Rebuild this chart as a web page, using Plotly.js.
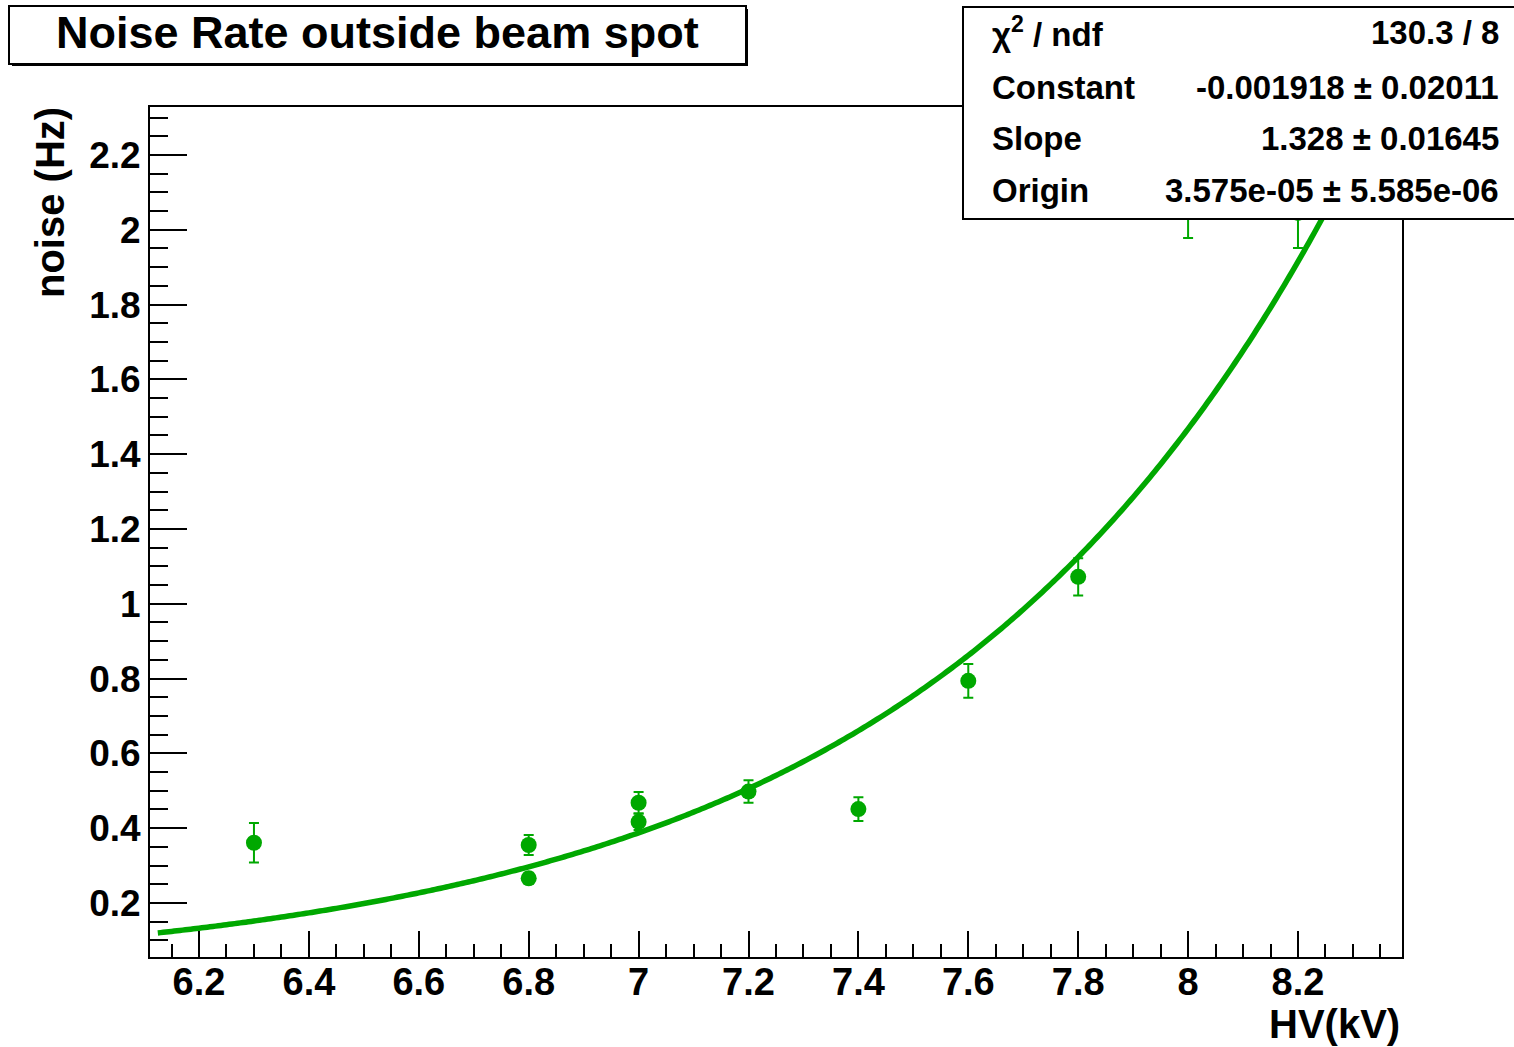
<!DOCTYPE html>
<html>
<head>
<meta charset="utf-8">
<script src="https://cdn.plot.ly/plotly-3.0.1.min.js"></script>
<style>html,body{margin:0;padding:0;background:#fff;}#chart{width:1514px;height:1047px;}</style>
</head>
<body>
<div id="chart"></div>
<script>
// ---- data ----
const hv      = [6.3,   6.8,   6.8,   7.0,   7.0,   7.2,   7.4,   7.6,   7.8,   8.0,   8.2];
const noise   = [0.361, 0.355, 0.266, 0.468, 0.417, 0.498, 0.451, 0.794, 1.072, 2.054, 2.045];
const noiseErr= [0.053, 0.027, 0.015, 0.029, 0.022, 0.030, 0.032, 0.045, 0.050, 0.076, 0.094];

// fit parameters shown in the stats box: f(x) = Constant + Origin*exp(Slope*x)
const statNames  = ["χ<sup>2</sup> / ndf", "Constant", "Slope", "Origin"];
const statValues = ["130.3 / 8", "-0.001918 ± 0.02011", "1.328 ± 0.01645", "3.575e-05 ± 5.585e-06"];
const fitConstant = -0.001918, fitSlope = 1.328, fitOrigin = 3.575e-05;
const fitRange = [6.125, 8.39];

const titleText = "Noise Rate outside beam spot";
const xTitle = "HV(kV)";
const yTitle = "noise (Hz)";

// ---- fit curve from the displayed parameters ----
const fitX = [], fitY = [];
for (let x = fitRange[0]; x <= fitRange[1] + 1e-9; x += 0.005) {
  fitX.push(x);
  fitY.push(fitConstant + fitOrigin * Math.exp(fitSlope * x));
}

const green = "rgb(0,168,0)";
const W = 1514, H = 1047;
const M = {l:150, r:112, t:107, b:90};
const pw = W - M.l - M.r, ph = H - M.t - M.b;
const px = v => (v - M.l) / pw;
const py = v => (H - M.b - v) / ph;
const FONT = "Liberation Sans, Arial, Helvetica, sans-serif";

const traces = [
  {x: fitX, y: fitY, mode: "lines", line: {color: green, width: 5.5, simplify: false}, hoverinfo: "skip", showlegend: false},
  {x: hv, y: noise, mode: "markers", marker: {color: green, size: 16},
   error_y: {type: "data", array: noiseErr, visible: true, color: green, thickness: 2, width: 5},
   showlegend: false}
];

const shapes = [
  // title box shadow + box
  {type:"rect", xref:"paper", yref:"paper", x0:px(12), x1:px(748), y0:py(66), y1:py(9), fillcolor:"#000", line:{width:0}, layer:"above"},
  {type:"rect", xref:"paper", yref:"paper", x0:px(9), x1:px(746), y0:py(64), y1:py(6), fillcolor:"#fff", line:{color:"#000", width:2}, layer:"above"},
  // stats box
  {type:"rect", xref:"paper", yref:"paper", x0:px(963), x1:px(1530), y0:py(219), y1:py(7), fillcolor:"#fff", line:{color:"#000", width:2}, layer:"above"}
];

const annotations = [
  {xref:"paper", yref:"paper", x:px(377), y:py(33), text:titleText, showarrow:false, xanchor:"center", yanchor:"middle",
   font:{family:FONT, size:45, color:"#000", weight:"bold"}},
  {xref:"paper", yref:"paper", x:px(1402), y:py(1024), text:xTitle, showarrow:false, xanchor:"right", yanchor:"middle",
   font:{family:FONT, size:40, color:"#000", weight:"bold"}},
  {xref:"paper", yref:"paper", x:px(50), y:py(203), text:yTitle, showarrow:false, textangle:-90, xanchor:"center", yanchor:"middle",
   font:{family:FONT, size:40, color:"#000", weight:"bold"}}
];
const rowY = [32, 87, 139, 190];
for (let i = 0; i < statNames.length; i++) {
  annotations.push({xref:"paper", yref:"paper", x:px(990), y:py(rowY[i]), text:statNames[i], showarrow:false,
    xanchor:"left", yanchor:"middle", font:{family:FONT, size:33, color:"#000", weight:"bold"}});
  annotations.push({xref:"paper", yref:"paper", x:px(1501), y:py(rowY[i]), text:statValues[i], showarrow:false,
    xanchor:"right", yanchor:"middle", font:{family:FONT, size:33, color:"#000", weight:"bold"}});
}

const layout = {
  width: W, height: H,
  margin: M,
  paper_bgcolor: "#fff", plot_bgcolor: "#fff",
  showlegend: false,
  xaxis: {
    range: [6.1108, 8.3893], showgrid: false, zeroline: false,
    showline: true, linecolor: "#000", linewidth: 2, mirror: true,
    ticks: "inside", ticklen: 26, tickwidth: 2, tickcolor: "#000",
    dtick: 0.2, tick0: 6.2,
    minor: {ticks: "inside", dtick: 0.05, ticklen: 13, tickwidth: 2, tickcolor: "#000", showgrid: false},
    tickfont: {family: FONT, size: 38, color: "#000", weight: "bold"},
    ticklabelstandoff: -10
  },
  yaxis: {
    range: [0.0556, 2.3283], showgrid: false, zeroline: false,
    showline: true, linecolor: "#000", linewidth: 2, mirror: true,
    ticks: "inside", ticklen: 37, tickwidth: 2, tickcolor: "#000",
    dtick: 0.2, tick0: 0,
    minor: {ticks: "inside", dtick: 0.05, ticklen: 18, tickwidth: 2, tickcolor: "#000", showgrid: false},
    tickfont: {family: FONT, size: 37, color: "#000", weight: "bold"},
    ticklabelstandoff: 0
  },
  shapes: shapes,
  annotations: annotations
};

Plotly.newPlot("chart", traces, layout, {staticPlot: true, displayModeBar: false});
</script>
</body>
</html>
